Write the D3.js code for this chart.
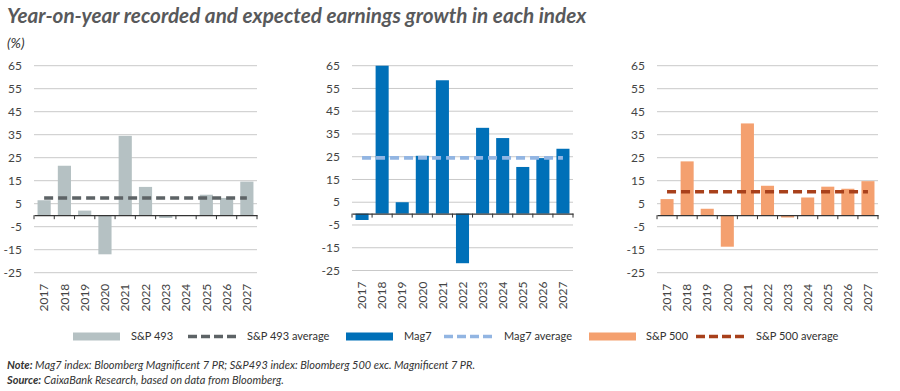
<!DOCTYPE html>
<html><head><meta charset="utf-8">
<script src="https://cdn.jsdelivr.net/npm/d3@7"></script>
<style>
body{margin:0;background:#fff;}
svg text{font-family:Lato,"Open Sans",sans-serif;}
</style></head>
<body><svg id="c" width="900" height="391"></svg>
<script>
const years = ["2017","2018","2019","2020","2021","2022","2023","2024","2025","2026","2027"];
const sp493 = [6.5, 21.5, 2, -17, 34.5, 12.3, -1.2, 0, 8.9, 7.5, 14.6];
const sp493Avg = 7.5;
const mag7 = [-2.8, 65, 5, 25.4, 58.6, -21.8, 37.7, 33.2, 20.5, 24.4, 28.5];
const mag7Avg = 24.5;
const sp500 = [7, 23.4, 2.8, -13.7, 39.9, 12.8, -1, 7.7, 12.4, 11.5, 14.8];
const sp500Avg = 10.2;
const yTicks = [65, 55, 45, 35, 25, 15, 5, -5, -15, -25];
const legendLabels = ["S&P 493","S&P 493 average","Mag7","Mag7 average","S&P 500","S&P 500 average"];

const svg = d3.select("#c");
const colors = {
  sp493: "#b5c1c3", sp493Avg: "#5d6366",
  mag7: "#0070b8", mag7Avg: "#92b5e2",
  sp500: "#f4a06f", sp500Avg: "#a8401b"
};

svg.append("text").attr("x",7).attr("y",23)
  .attr("font-size",20.7).attr("font-weight","bold").attr("font-style","italic")
  .attr("fill","#58595b").text("Year-on-year recorded and expected earnings growth in each index");
svg.append("text").attr("x",7).attr("y",48)
  .attr("font-size",14).attr("font-style","italic").attr("fill","#333").text("(%)");

const panels = [
  {x0:34, x1:257, y0:65.7, y1:272.7, data:sp493, avg:sp493Avg, c:colors.sp493, ca:colors.sp493Avg},
  {x0:352, x1:573, y0:65.7, y1:270.5, data:mag7, avg:mag7Avg, c:colors.mag7, ca:colors.mag7Avg},
  {x0:657, x1:878, y0:65.7, y1:272.7, data:sp500, avg:sp500Avg, c:colors.sp500, ca:colors.sp500Avg}
];

panels.forEach(p => {
  const g = svg.append("g");
  const x = d3.scaleBand().domain(years).range([p.x0, p.x1]).paddingInner(0.35).paddingOuter(0.175);
  const xb = d3.scaleBand().domain(years).range([p.x0, p.x1]);
  const y = d3.scaleLinear().domain([-25, 65]).range([p.y1, p.y0]);
  g.selectAll("line.grid").data(yTicks).join("line")
    .attr("x1",p.x0).attr("x2",p.x1).attr("y1",d=>y(d)).attr("y2",d=>y(d))
    .attr("stroke","#c9c9c9").attr("stroke-width",1);
  g.selectAll("text.yl").data(yTicks).join("text")
    .attr("x",p.x0-12).attr("y",d=>y(d)).attr("dy","0.35em")
    .attr("text-anchor","end").attr("font-size",12).attr("fill","#444")
    .text(d=>d);
  g.selectAll("rect").data(years).join("rect")
    .attr("x",d=>x(d)).attr("width",x.bandwidth())
    .attr("y",(d,i)=>y(Math.max(0,p.data[i])))
    .attr("height",(d,i)=>Math.abs(y(p.data[i])-y(0)))
    .attr("fill",p.c);
  const ax = d3.axisBottom(xb).tickSize(0).tickFormat("");
  const axg = g.append("g").attr("transform",`translate(0,${y(0)})`).call(ax);
  axg.select(".domain").attr("stroke","#333").attr("stroke-width",1.2);
  axg.selectAll(".tick").remove();
  const edges = years.map(d=>xb(d)).concat([p.x1]);
  g.selectAll("line.et").data(edges).join("line")
    .attr("x1",d=>d).attr("x2",d=>d).attr("y1",y(0)).attr("y2",y(0)+4)
    .attr("stroke","#333").attr("stroke-width",1);
  g.append("line")
    .attr("x1",xb(years[0])+xb.bandwidth()/2).attr("x2",xb(years[years.length-1])+xb.bandwidth()/2)
    .attr("y1",y(p.avg)).attr("y2",y(p.avg))
    .attr("stroke",p.ca).attr("stroke-width",3.6).attr("stroke-dasharray","9,5");
  g.selectAll("text.xl").data(years).join("text")
    .attr("transform",d=>`translate(${xb(d)+xb.bandwidth()/2},${p.y1+11}) rotate(-90)`)
    .attr("text-anchor","end").attr("dy","0.35em")
    .attr("font-size",12).attr("fill","#444").text(d=>d);
});

const leg = [
  {t:"rect", c:colors.sp493, x:73, tx:131},
  {t:"dash", c:colors.sp493Avg, x:188, tx:247},
  {t:"rect", c:colors.mag7, x:346, tx:404},
  {t:"dash", c:colors.mag7Avg, x:444, tx:504},
  {t:"rect", c:colors.sp500, x:589, tx:646},
  {t:"dash", c:colors.sp500Avg, x:696, tx:756}
];
const ly = 336.5;
leg.forEach((l,i) => {
  if (l.t==="rect") {
    svg.append("rect").attr("x",l.x).attr("y",ly-4).attr("width",47).attr("height",8).attr("fill",l.c);
  } else {
    svg.append("line").attr("x1",l.x).attr("x2",l.x+48).attr("y1",ly).attr("y2",ly)
      .attr("stroke",l.c).attr("stroke-width",3.6).attr("stroke-dasharray","9,4");
  }
  svg.append("text").attr("x",l.tx).attr("y",ly).attr("dy","0.35em")
    .attr("font-size",11).attr("fill","#333").text(legendLabels[i]);
});

const n1 = svg.append("text").attr("x",7).attr("y",369).attr("font-size",11).attr("font-style","italic").attr("fill","#333");
n1.append("tspan").attr("font-weight","bold").text("Note:");
n1.append("tspan").text(" Mag7 index: Bloomberg Magnificent 7 PR; S&P493 index: Bloomberg 500 exc. Magnificent 7 PR.");
const n2 = svg.append("text").attr("x",7).attr("y",384).attr("font-size",11).attr("font-style","italic").attr("fill","#333");
n2.append("tspan").attr("font-weight","bold").text("Source:");
n2.append("tspan").text(" CaixaBank Research, based on data from Bloomberg.");
</script></body></html>
